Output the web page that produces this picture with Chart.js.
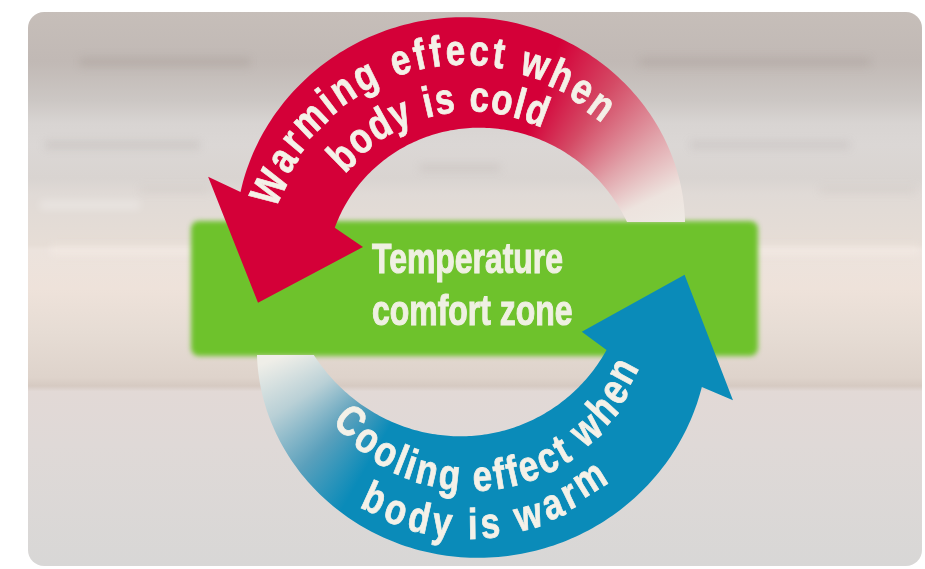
<!DOCTYPE html>
<html>
<head>
<meta charset="utf-8">
<title>Temperature comfort zone</title>
<script src="https://cdn.jsdelivr.net/npm/chart.js@4.4.1/dist/chart.umd.min.js"></script>
<style>
  html, body { margin: 0; padding: 0; background: #ffffff; }
  #wrap { width: 925px; height: 569px; position: relative; }
</style>
</head>
<body>
<div id="wrap"><canvas id="cycle"></canvas></div>
<script>
// ---- diagram content ----
const zoneLines = ['Temperature', 'comfort zone'];
const arrowNames = ['warming', 'cooling'];
const arrowLines = [
    ['Warming effect when', 'body is cold'],
    ['Cooling effect when', 'body is warm']
];
const arrowColors = ['#d40038', '#0a8bb9'];

// ---- layout (diagram units == pixels, angles in degrees, y up) ----
// no condensed face is installed, so a bold sans is squeezed horizontally
const FONT = '"Liberation Sans", Arimo, Arial, sans-serif';
const SQUEEZE = 0.81;
const ARC_FONT_SIZE = 43;
const GEOM = {
    center: [470, 288],
    card: [28, 12, 922, 566],
    zone: [191, 221, 758, 356],
    arrows: {
        warming: {
            tail: 6, neck: 157.3, neckInner: 156,
            outer: [[18, 226], [92, 271], [157, 249]],
            inner: [[25, 170], [90, 160], [156, 148]],
            barbOuter: [157, 284.5], barbInner: [159, 114.6], tip: [184, 212.5],
            startCanvas: 0,
            fade: [[70, arrowColors[0]], [55, '#d44a65'], [39, '#e1a3aa'], [26, '#ede3de'], [14, '#eeebe5']],
            text: [
                { from: 157.7, to: 51.5, up: 'out', base: [[155, 209], [105, 224], [54, 211]] },
                { from: 137.5, to: 66, up: 'out', base: [[135, 169], [100, 176], [72, 176]] }
            ]
        },
        cooling: {
            tail: 188, neck: 336.9, neckInner: 335.6,
            outer: [[199, 225], [272, 270], [337, 252]],
            inner: [[205, 169], [270, 148], [336, 150]],
            barbOuter: [336.9, 285.9], barbInner: [338.6, 120], tip: [363.5, 215],
            startCanvas: 180,
            fade: [[240, arrowColors[1]], [227, '#5aa0bc'], [213, '#b9d0d6'], [200, '#efeee8'], [190, '#efeee8']],
            text: [
                { from: 224, to: 335, up: 'in', base: [[228, 193], [270, 203], [330, 188]] },
                { from: 243, to: 306, up: 'in', base: [[247, 246], [270, 251], [302, 239]] }
            ]
        }
    }
};

// quadratic through three [angle, radius] samples
function lagrange(s) {
    const [[x0, y0], [x1, y1], [x2, y2]] = s;
    return t => y0 * (t - x1) * (t - x2) / ((x0 - x1) * (x0 - x2)) +
                y1 * (t - x0) * (t - x2) / ((x1 - x0) * (x1 - x2)) +
                y2 * (t - x0) * (t - x1) / ((x2 - x0) * (x2 - x1));
}
const rad = d => d * Math.PI / 180;

const cyclePlugin = {
    id: 'cycleDiagram',
    beforeDatasetsDraw(chart) {
        const { ctx, scales: { x, y } } = chart;
        const px = v => x.getPixelForValue(v);
        const py = v => y.getPixelForValue(v);
        const [cx, cy] = GEOM.center;
        const polar = (t, r) => [px(cx + r * Math.cos(rad(t))), py(cy - r * Math.sin(rad(t)))];

        // card background
        const [c0, c1, c2, c3] = GEOM.card;
        ctx.save();
        ctx.fillStyle = '#ffffff';
        ctx.fillRect(0, 0, chart.width, chart.height);
        ctx.beginPath();
        ctx.roundRect(px(c0), py(c1), px(c2) - px(c0), py(c3) - py(c1), 16);
        ctx.clip();
        const bg = ctx.createLinearGradient(0, py(c1), 0, py(c3));
        [[0, '#c6beb9'], [0.09, '#c1b9b5'], [0.16, '#ccc7c4'], [0.2, '#d8d4d2'], [0.24, '#dbd7d5'],
         [0.3, '#d9d4d1'], [0.33, '#e0dad6'], [0.42, '#e6ddd6'], [0.43, '#ece3dd'], [0.5, '#eee2da'],
         [0.58, '#e6dcd4'], [0.66, '#ded3cb'], [0.675, '#d6cac2'], [0.685, '#e2d9d6'],
         [0.78, '#dfd9d7'], [1, '#d8d7d6']].forEach(([o, c]) => bg.addColorStop(o, c));
        ctx.fillStyle = bg;
        ctx.fillRect(0, 0, chart.width, chart.height);
        // blurred streaks
        ctx.filter = 'blur(4px)';
        [[80, 250, 62, 9, 'rgba(150,138,132,0.25)'], [640, 870, 62, 9, 'rgba(150,138,132,0.22)'],
         [45, 200, 145, 7, 'rgba(160,152,148,0.25)'], [690, 850, 145, 7, 'rgba(160,152,148,0.22)'],
         [420, 500, 168, 6, 'rgba(170,160,155,0.25)'], [140, 210, 190, 5, 'rgba(175,165,160,0.2)'],
         [820, 915, 190, 5, 'rgba(175,165,160,0.2)'], [40, 140, 205, 8, 'rgba(255,255,255,0.3)'],
         [50, 920, 250, 10, 'rgba(255,245,240,0.3)']].forEach(([a, b, yy, h, c]) => {
            ctx.fillStyle = c;
            ctx.fillRect(px(a), py(yy) - h / 2, px(b) - px(a), h);
        });
        ctx.filter = 'none';
        ctx.restore();

        // comfort zone box
        const [z0, z1, z2, z3] = GEOM.zone;
        ctx.save();
        ctx.filter = 'blur(2.5px)';
        ctx.fillStyle = '#6ec22c';
        ctx.beginPath();
        ctx.roundRect(px(z0), py(z1), px(z2) - px(z0), py(z3) - py(z1), 8);
        ctx.fill();
        ctx.restore();
        ctx.save();
        ctx.fillStyle = ctx.strokeStyle = '#eff0e2';
        ctx.lineWidth = 1.1;
        ctx.font = 'bold 42px ' + FONT;
        ctx.textAlign = 'left';
        ctx.textBaseline = 'alphabetic';
        [[zoneLines[0], 273], [zoneLines[1], 325]].forEach(([s, yy]) => {
            ctx.save();
            ctx.translate(px(372), py(yy));
            ctx.scale(0.76, 1);
            ctx.fillText(s, 0, 0);
            ctx.strokeText(s, 0, 0);
            ctx.restore();
        });
        ctx.restore();

        // arrows
        arrowNames.forEach((name, i) => {
            const a = GEOM.arrows[name];
            const out = lagrange(a.outer), inn = lagrange(a.inner);
            const pts = [];
            for (let t = a.tail; t < a.neck; t += 1) pts.push(polar(t, out(t)));
            pts.push(polar(a.neck, out(a.neck)));
            pts.push(polar(...a.barbOuter));
            pts.push(polar(...a.tip));
            pts.push(polar(...a.barbInner));
            pts.push(polar(a.neckInner, inn(a.neckInner)));
            for (let t = a.neckInner - 1; t >= a.tail; t -= 1) pts.push(polar(t, inn(t)));
            pts.push(polar(a.tail, inn(a.tail)));

            const grad = ctx.createConicGradient(rad(a.startCanvas), px(cx), py(cy));
            a.fade.map(([deg, c]) => [(((-deg - a.startCanvas) % 360) + 720) % 360 / 360, c])
                .sort((p, q) => p[0] - q[0])
                .forEach(([o, c], k, arr) => {
                    if (k === 0) grad.addColorStop(0, c);
                    grad.addColorStop(o, c);
                    if (k === arr.length - 1) grad.addColorStop(1, c);
                });
            ctx.save();
            ctx.beginPath();
            ctx.rect(0, 0, chart.width, chart.height);
            if (i === 0) ctx.rect(px(cx), py(z1) + 1, px(z2 + 6) - px(cx), py(z3) - py(z1));
            else ctx.rect(px(z0 - 6), py(z1), px(cx) - px(z0 - 6), py(z3) - py(z1) - 1);
            ctx.clip('evenodd');
            ctx.beginPath();
            pts.forEach(([u, v], k) => (k ? ctx.lineTo(u, v) : ctx.moveTo(u, v)));
            ctx.closePath();
            ctx.fillStyle = grad;
            ctx.fill();
            ctx.restore();

            // curved labels
            a.text.forEach((spec, li) => drawArcText(ctx, arrowLines[i][li], spec, polar));
        });
    }
};

function drawArcText(ctx, text, spec, polar) {
    const size = ARC_FONT_SIZE;
    ctx.save();
    ctx.font = 'bold ' + size + 'px ' + FONT;
    ctx.fillStyle = ctx.strokeStyle = '#f4f1e8';
    ctx.lineWidth = 0.8;
    ctx.textAlign = 'center';
    ctx.textBaseline = 'alphabetic';
    const rb = lagrange(spec.base);
    const off = (spec.up === 'out' ? 0.3 : -0.3) * size;
    const rm = t => rb(t) + off;
    const dir = Math.sign(spec.to - spec.from);
    const chars = [...text];
    const widths = chars.map(ch => ctx.measureText(ch).width * SQUEEZE);
    const natural = widths.reduce((s, w) => s + w, 0);
    let arc = 0;
    const steps = 100;
    for (let k = 0; k < steps; k++) {
        const t = spec.from + (spec.to - spec.from) * (k + 0.5) / steps;
        arc += rm(t) * Math.abs(rad(spec.to - spec.from)) / steps;
    }
    const gap = (arc - natural) / (chars.length - 1);
    let t = spec.from;
    chars.forEach((ch, k) => {
        t += dir * (widths[k] / 2) / rm(t) * 180 / Math.PI;
        const [u, v] = polar(t, rb(t));
        ctx.save();
        ctx.translate(u, v);
        ctx.rotate(rad(spec.up === 'out' ? 90 - t : 270 - t));
        ctx.scale(SQUEEZE, 1);
        ctx.fillText(ch, 0, 0);
        if (ch !== ' ') ctx.strokeText(ch, 0, 0);
        ctx.restore();
        t += dir * (widths[k] / 2 + gap) / rm(t) * 180 / Math.PI;
    });
    ctx.restore();
}

new Chart(document.getElementById('cycle'), {
    type: 'scatter',
    data: { datasets: [{ label: 'cycle', data: [], pointRadius: 0 }] },
    options: {
        responsive: true,
        maintainAspectRatio: false,
        animation: false,
        events: [],
        layout: { padding: 0 },
        plugins: { legend: { display: false }, tooltip: { enabled: false } },
        scales: {
            x: { type: 'linear', min: 0, max: 925, display: false },
            y: { type: 'linear', min: 0, max: 569, reverse: true, display: false }
        }
    },
    plugins: [cyclePlugin]
});
</script>
</body>
</html>
